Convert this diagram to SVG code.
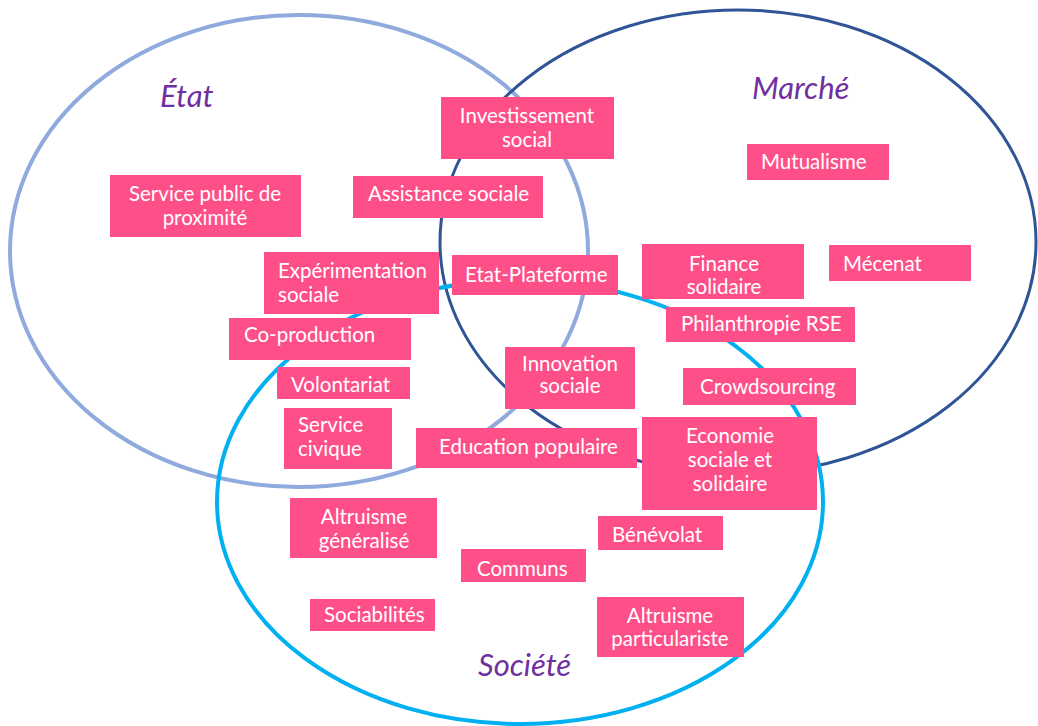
<svg xmlns="http://www.w3.org/2000/svg" width="1038" height="726" viewBox="0 0 1038 726">
<style>
.c{fill:none}
.b{fill:#ff4f88}
.t{fill:#fff;font-family:Lato,"Open Sans",sans-serif;font-size:20.5px}
.m{text-anchor:middle}
.h{fill:#7030a0;font-family:Lato,"Open Sans",sans-serif;font-size:31px;font-style:italic}
</style>
<rect width="1038" height="726" fill="#fff"/>
<g id="connectors">
<ellipse id="etat-circle" class="c" cx="299" cy="251" rx="289" ry="236" stroke="#8faadc" stroke-width="4"/>
<ellipse id="marche-circle" class="c" cx="738" cy="242" rx="298" ry="232" stroke="#2f5597" stroke-width="3"/>
<ellipse id="societe-circle" class="c" cx="520" cy="502" rx="303" ry="222" stroke="#00b0f0" stroke-width="4"/>
</g>
<g id="etat"><text class="h" x="160" y="107">État</text></g>
<g id="marche"><text class="h" x="752" y="99">Marché</text></g>
<g id="societe"><text class="h" x="478" y="676">Société</text></g>
<g id="n1"><rect class="b" x="441" y="97" width="173" height="62"/><text class="t m" x="527" y="123">Investissement</text><text class="t m" x="527" y="147">social</text></g>
<g id="n2"><rect class="b" x="110" y="175" width="191" height="62"/><text class="t m" x="205" y="201">Service public de</text><text class="t m" x="205" y="225">proximité</text></g>
<g id="n3"><rect class="b" x="353" y="176" width="190" height="42"/><text class="t" x="368" y="201">Assistance sociale</text></g>
<g id="n4"><rect class="b" x="747" y="144" width="142" height="36"/><text class="t" x="761" y="169">Mutualisme</text></g>
<g id="n5"><rect class="b" x="264" y="252" width="175" height="62"/><text class="t" x="278" y="278">Expérimentation</text><text class="t" x="278" y="302">sociale</text></g>
<g id="n6"><rect class="b" x="452" y="255" width="166" height="40"/><text class="t" x="465" y="282">Etat-Plateforme</text></g>
<g id="n7"><rect class="b" x="642" y="244" width="162" height="55"/><text class="t m" x="724" y="271">Finance</text><text class="t m" x="724" y="294">solidaire</text></g>
<g id="n8"><rect class="b" x="829" y="245" width="142" height="36"/><text class="t" x="843" y="271">Mécenat</text></g>
<g id="n9"><rect class="b" x="666" y="307" width="189" height="35"/><text class="t" x="681" y="331">Philanthropie RSE</text></g>
<g id="n10"><rect class="b" x="229" y="318" width="182" height="42"/><text class="t" x="244" y="342">Co-production</text></g>
<g id="n11"><rect class="b" x="277" y="367" width="133" height="32"/><text class="t" x="291" y="392">Volontariat</text></g>
<g id="n12"><rect class="b" x="505" y="347" width="130" height="62"/><text class="t m" x="570" y="371">Innovation</text><text class="t m" x="570" y="393">sociale</text></g>
<g id="n13"><rect class="b" x="683" y="368" width="173" height="37"/><text class="t" x="700" y="394">Crowdsourcing</text></g>
<g id="n14"><rect class="b" x="284" y="408" width="108" height="61"/><text class="t" x="298" y="432">Service</text><text class="t" x="298" y="456">civique</text></g>
<g id="n15"><rect class="b" x="416" y="428" width="221" height="40"/><text class="t" x="439" y="454">Education populaire</text></g>
<g id="n16"><rect class="b" x="642" y="417" width="175" height="93"/><text class="t m" x="730" y="443">Economie</text><text class="t m" x="730" y="467">sociale et</text><text class="t m" x="730" y="491">solidaire</text></g>
<g id="n17"><rect class="b" x="290" y="498" width="147" height="60"/><text class="t m" x="364" y="524">Altruisme</text><text class="t m" x="364" y="548">généralisé</text></g>
<g id="n18"><rect class="b" x="598" y="516" width="125" height="34"/><text class="t" x="612" y="542">Bénévolat</text></g>
<g id="n19"><rect class="b" x="461" y="549" width="125" height="33"/><text class="t" x="477" y="576">Communs</text></g>
<g id="n20"><rect class="b" x="310" y="599" width="125" height="32"/><text class="t" x="324" y="622">Sociabilités</text></g>
<g id="n21"><rect class="b" x="597" y="597" width="147" height="60"/><text class="t m" x="670" y="623">Altruisme</text><text class="t m" x="670" y="646">particulariste</text></g>
</svg>
